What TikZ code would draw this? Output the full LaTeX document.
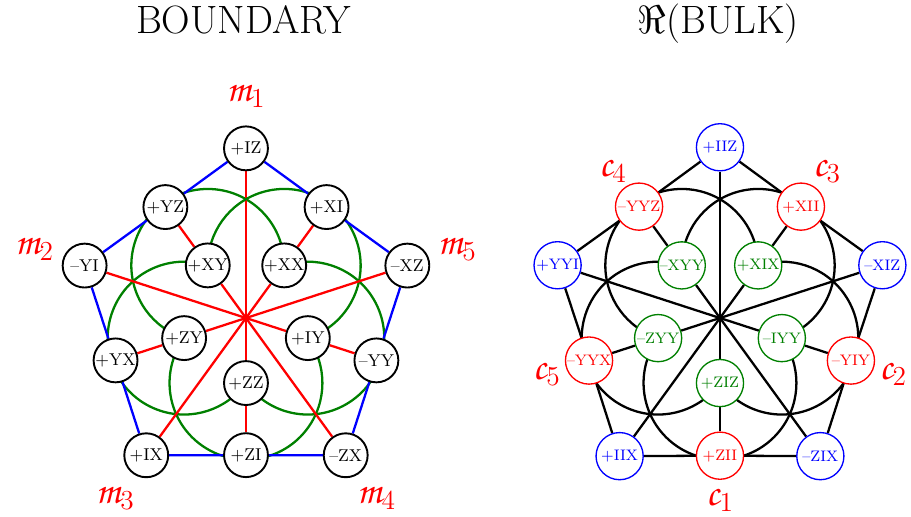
\documentclass[tikz,border=0pt]{standalone}
\usepackage[dvipsnames,svgnames,x11names]{xcolor}
\usepackage{tikz,amsmath,amssymb}
\usetikzlibrary{backgrounds, calc, positioning}
\DeclareMathAlphabet{\mathpzc}{OT1}{pzc}{m}{it}

\begin{document}
\begin{tikzpicture}[
    qbit/.style={circle, draw, fill=white, line width=1pt, minimum size=0.81cm, inner sep=0pt, font=\small},
    stab/.style={circle, draw=#1, text=#1, fill=white, line width=0.7pt, minimum size=0.87cm, inner sep=0pt, font=\footnotesize},
    wire/.style={line width=1.2pt},
    tag/.style={red, font=\huge},
    head/.style={anchor=base, inner sep=0pt, font=\huge},
  ]
  \useasboundingbox (-4.538,-3.653) rectangle (12.269,5.867);

  \node[head] (btitle) at (-0.05,5.25) {BOUNDARY};
  \node[head] (ktitle) at (8.71,5.25) {$\Re$(BULK)};

  % boundary
  \coordinate (lc) at (0,0);
  \foreach \txt [count=\k from 0] in {+IZ,--YI,+IX,--ZX,--XZ}
    \node[qbit] (lo\k) at (90+72*\k:3.13) {\txt};
  \foreach \txt [count=\k from 0] in {+YZ,+YX,+ZI,--YY,+XI}
    \node[qbit] (lm\k) at (126+72*\k:2.53) {\txt};
  \foreach \txt [count=\k from 0] in {+XY,+ZY,+ZZ,+IY,+XX}
    \node[qbit] (li\k) at (126+72*\k:1.20) {\txt};
  \foreach \a [count=\n] in {90,162,234,306,378}
    \node[tag] (m\n) at (\a:4.10) {$\mathpzc{m}_{\n}$};

  \begin{scope}[on background layer]
    \foreach \k in {0,...,4}{
      \pgfmathtruncatemacro\nk{mod(\k+1,5)}
      \draw[wire, green!50!black] ($(li\k)+(72*\k:1.41)$)
        arc[start angle=72*\k, end angle=252+72*\k, radius=1.41];
      \draw[wire, red] (lc) -- (lo\k);
      \draw[wire, red] (lc) -- (li\k) -- (lm\k);
      \draw[wire, blue] (lo\k) -- (lm\k) -- (lo\nk);
    }
  \end{scope}

  % bulk
  \begin{scope}[shift={(8.745,0)}]
    \coordinate (rc) at (0,0);
    \foreach \txt [count=\k from 0] in {+IIZ,+YYI,+IIX,--ZIX,--XIZ}
      \node[stab=blue] (ro\k) at (90+72*\k:3.15) {\txt};
    \foreach \txt [count=\k from 0] in {--YYZ,--YYX,+ZII,--YIY,+XII}
      \node[stab=red] (rm\k) at (126+72*\k:2.54) {\txt};
    \foreach \txt [count=\k from 0] in {--XYY,--ZYY,+ZIZ,--IYY,+XIX}
      \node[stab=green!50!black] (ri\k) at (126+72*\k:1.20) {\txt};
    \foreach \a [count=\n] in {270,342,414,486,558}
      \node[tag] (c\n) at (\a:3.36) {$\mathpzc{c}_{\n}$};
  \end{scope}

  \begin{scope}[on background layer]
    \foreach \k in {0,...,4}{
      \pgfmathtruncatemacro\nk{mod(\k+1,5)}
      \draw[wire] ($(ri\k)+(72*\k:1.41)$)
        arc[start angle=72*\k, end angle=252+72*\k, radius=1.41];
      \draw[wire] (rc) -- (ro\k);
      \draw[wire] (rc) -- (ri\k) -- (rm\k);
      \draw[wire] (ro\k) -- (rm\k) -- (ro\nk);
    }
  \end{scope}
\end{tikzpicture}
\end{document}
